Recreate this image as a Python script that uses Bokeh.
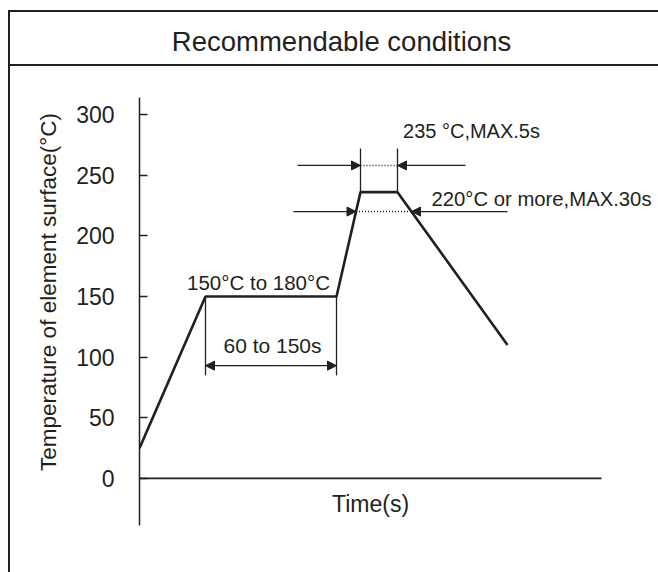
from bokeh.plotting import figure
from bokeh.models import (Range1d, Label, Arrow, NormalHead, FixedTicker, InlineStyleSheet)
from bokeh.embed import file_html
from bokeh.resources import INLINE

# ---- data ----
profile_time = [0, 66, 197, 221, 258, 368]          # schematic time units
profile_temp = [25, 150, 150, 236, 236, 110]        # degC

temp_ticks = [0, 50, 100, 150, 200, 250, 300]
temp_tick_labels = ["0", "50", "100", "150", "200", "250", "300"]
temp_axis_bounds = (-38.7, 314)
time_axis_end = 462

soak_start, soak_end = 66, 197        # 60 to 150 s window
soak_arrow_temp = 93
soak_ext_bottom = 85

peak_start, peak_end = 221, 258       # MAX 5 s at peak
peak_temp = 236
peak_ext_top = 272
peak_dim_temp = 258
peak_arrow_left_tail, peak_arrow_right_tail = 158, 326

liq_temp = 220                        # 220 degC or more
liq_cross_left, liq_cross_right = 216.5, 272
liq_arrow_left_tail, liq_arrow_right_tail = 154, 368

title_text = "Recommendable conditions"
y_label_text = "Temperature of element surface(°C)"
x_label_text = "Time(s)"
soak_temp_text = "150°C to 180°C"
soak_time_text = "60 to 150s"
peak_text = "235 °C,MAX.5s"
liq_text = "220°C or more,MAX.30s"

INK = "#231f20"
FONT = "Liberation Sans"

# frame box drawn behind the transparent canvas
box_css = InlineStyleSheet(css=f"""
:host {{
  background:
    linear-gradient({INK},{INK}) 8px 10px / 2px 700px no-repeat,
    linear-gradient({INK},{INK}) 8px 10px / 800px 2px no-repeat,
    linear-gradient({INK},{INK}) 8px 64px / 800px 2px no-repeat,
    white;
}}
""")

p = figure(width=658, height=572, output_backend="svg", toolbar_location=None,
           x_range=Range1d(0, 519), y_range=Range1d(-77.5, 384.9),
           x_axis_location=None,
           min_border_left=139, min_border_right=0, min_border_top=11, min_border_bottom=0,
           stylesheets=[box_css])
p.grid.visible = False
p.outline_line_color = None
p.background_fill_color = None
p.border_fill_color = None

ax = p.yaxis[0]
ax.ticker = FixedTicker(ticks=temp_ticks)
ax.bounds = temp_axis_bounds
ax.major_label_overrides = {t: l for t, l in zip(temp_ticks, temp_tick_labels)}
ax.axis_line_color = INK
ax.axis_line_width = 1.5
ax.major_tick_line_color = INK
ax.major_tick_line_width = 1.5
ax.major_tick_in = 8
ax.major_tick_out = 0
ax.minor_tick_line_color = None
ax.major_label_standoff = 25
ax.major_label_text_font = FONT
ax.major_label_text_font_size = "23px"
ax.major_label_text_color = INK
ax.axis_label = y_label_text
ax.axis_label_text_font = FONT
ax.axis_label_text_font_size = "22.5px"
ax.axis_label_text_font_style = "normal"
ax.axis_label_text_color = INK
ax.axis_label_standoff = 12

# x axis line at 0 degC
p.segment(x0=[0], y0=[0], x1=[time_axis_end], y1=[0], line_color=INK, line_width=1.8)

# temperature profile
p.line(profile_time, profile_temp, line_color=INK, line_width=2.6)

# soak window dimension
p.segment(x0=[soak_start, soak_end], y0=[150, 150], x1=[soak_start, soak_end],
          y1=[soak_ext_bottom, soak_ext_bottom], line_color=INK, line_width=1.3)
p.add_layout(Arrow(start=NormalHead(size=9, fill_color=INK, line_color=INK),
                   end=NormalHead(size=9, fill_color=INK, line_color=INK),
                   x_start=soak_start, y_start=soak_arrow_temp,
                   x_end=soak_end, y_end=soak_arrow_temp,
                   line_color=INK, line_width=1.3))

# peak dimension
p.segment(x0=[peak_start, peak_end], y0=[peak_temp, peak_temp], x1=[peak_start, peak_end],
          y1=[peak_ext_top, peak_ext_top], line_color=INK, line_width=1.3)
p.segment(x0=[peak_start], y0=[peak_dim_temp], x1=[peak_end], y1=[peak_dim_temp],
          line_color=INK, line_width=1.5, line_dash="1 2")
for tail, tip in [(peak_arrow_left_tail, peak_start), (peak_arrow_right_tail, peak_end)]:
    p.add_layout(Arrow(end=NormalHead(size=9, fill_color=INK, line_color=INK),
                       x_start=tail, y_start=peak_dim_temp, x_end=tip, y_end=peak_dim_temp,
                       line_color=INK, line_width=1.3))

# 220 degC dimension
p.segment(x0=[liq_cross_left], y0=[liq_temp], x1=[liq_cross_right], y1=[liq_temp],
          line_color=INK, line_width=1.5, line_dash="1 2")
for tail, tip in [(liq_arrow_left_tail, liq_cross_left), (liq_arrow_right_tail, liq_cross_right)]:
    p.add_layout(Arrow(end=NormalHead(size=9, fill_color=INK, line_color=INK),
                       x_start=tail, y_start=liq_temp, x_end=tip, y_end=liq_temp,
                       line_color=INK, line_width=1.3))

def lab(x, y, text, size="20px", align="center"):
    p.add_layout(Label(x=x, y=y, text=text, text_font=FONT, text_font_size=size,
                       text_color=INK, text_align=align, text_baseline="middle"))

lab(202, 360.2, title_text, size="27.5px")
lab(231, -21.4, x_label_text, size="23px")
lab(119, 161.5, soak_temp_text, size="20.5px")
lab(133, 109.6, soak_time_text, size="21px")
lab(332, 286, peak_text)
lab(292, 230, liq_text, size="20.3px", align="left")

open("out.html", "w").write(file_html(p, INLINE))
